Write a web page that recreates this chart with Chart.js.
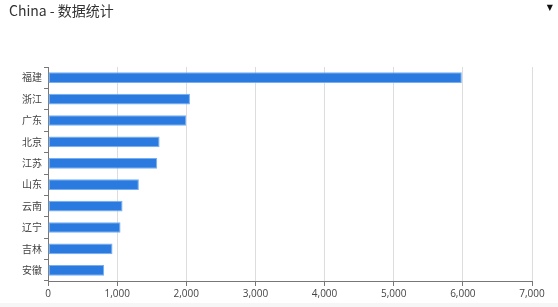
<!DOCTYPE html>
<html>
<head>
<meta charset="utf-8">
<script src="https://cdn.jsdelivr.net/npm/chart.js@4/dist/chart.umd.min.js"></script>
<style>
  html, body { margin: 0; padding: 0; background: #fff; }
  #wrap { position: relative; width: 558px; height: 307px; overflow: hidden; }
  #title { position: absolute; left: 9px; top: 0px; font: 14px "Noto Sans CJK SC", "Open Sans", sans-serif; color: #333; }
  #menu { position: absolute; right: 5px; top: 3px; font: 8px "DejaVu Sans", sans-serif; color: #111; }
  #foot { position: absolute; left: 0; bottom: 0; width: 558px; height: 4px; background: #f6f6f6; }
  canvas { position: absolute; left: 0; top: 0; }
</style>
</head>
<body>
<div id="wrap">
  <canvas id="provinceChart" width="558" height="307"></canvas>
  <div id="title">China - 数据统计</div>
  <div id="menu">▼</div>
  <div id="foot"></div>
</div>
<script>
// provinces and their counts
const provinces = ['福建', '浙江', '广东', '北京', '江苏', '山东', '云南', '辽宁', '吉林', '安徽'];
const counts = [5985, 2053, 1996, 1614, 1580, 1314, 1078, 1049, 933, 812];
const xMax = 7000;
const xStep = 1000;

const axisColor = '#777';
const gridColor = '#dddddd';
const labelColor = '#444';

const ctx = document.getElementById('provinceChart').getContext('2d');
new Chart(ctx, {
    type: 'bar',
    data: {
        labels: provinces,
        datasets: [{
            label: 'China',
            data: counts,
            backgroundColor: '#2a7ae0',
            borderColor: '#76aef0',
            borderWidth: 1,
            borderSkipped: false,
            barPercentage: 0.5,
            categoryPercentage: 1
        }]
    },
    options: {
        indexAxis: 'y',
        responsive: false,
        animation: false,
        layout: { padding: { top: 67, right: 26, bottom: 0, left: 0 } },
        plugins: { legend: { display: false }, tooltip: { enabled: false }, title: { display: false } },
        scales: {
            x: {
                min: 0, max: xMax,
                afterFit: s => { s.height = 26; },
                ticks: {
                    stepSize: xStep, color: labelColor, padding: 2,
                    font: { size: 10, family: '"Open Sans", sans-serif' },
                    callback: v => v.toLocaleString('en-US')
                },
                grid: { color: gridColor, lineWidth: 1, tickColor: axisColor, tickLength: 5 },
                border: { color: axisColor, width: 1 }
            },
            y: {
                afterFit: s => { s.width = 48; },
                ticks: {
                    color: labelColor, padding: 2,
                    font: { size: 10, family: '"Noto Sans CJK SC", sans-serif' }
                },
                grid: { drawOnChartArea: false, offset: true, tickColor: axisColor, tickLength: 4 },
                border: { color: axisColor, width: 1 }
            }
        }
    }
});
</script>
</body>
</html>
